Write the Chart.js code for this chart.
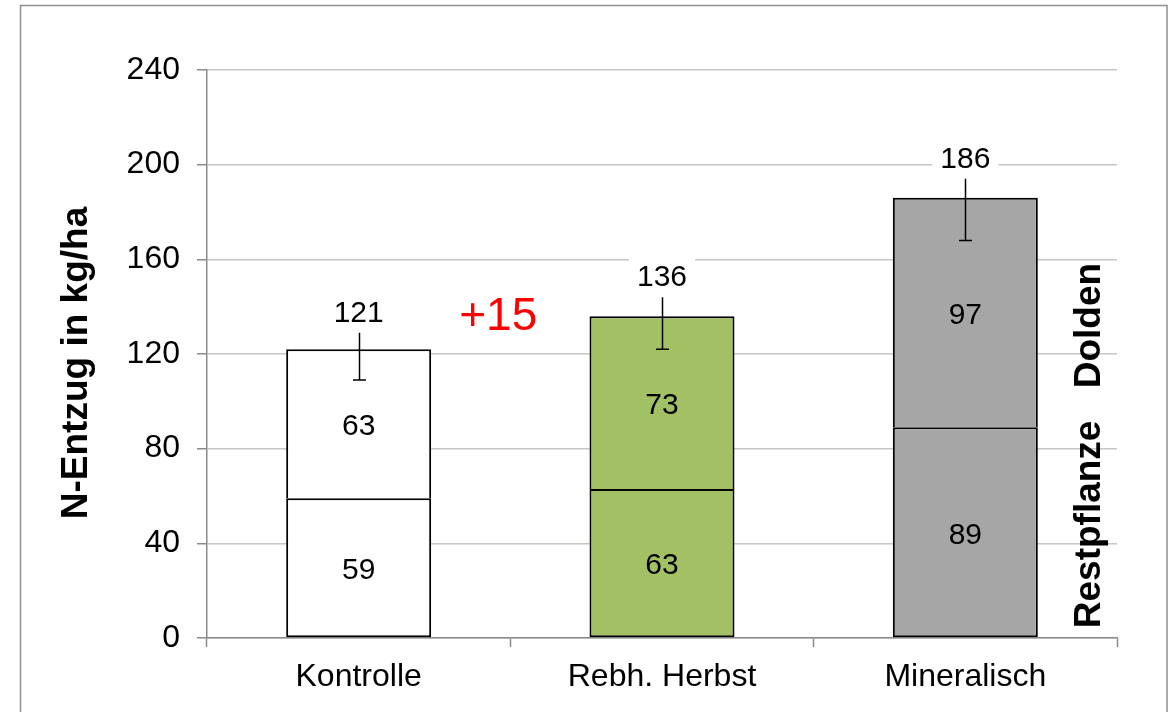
<!DOCTYPE html>
<html>
<head>
<meta charset="utf-8">
<script src="https://cdn.jsdelivr.net/npm/chart.js@4/dist/chart.umd.min.js"></script>
<style>
html,body{margin:0;padding:0;background:#fff;}
#c{display:block;}
</style>
</head>
<body>
<canvas id="c" width="1173" height="712"></canvas>
<script>
const categories = ['Kontrolle', 'Rebh. Herbst', 'Mineralisch'];
const restpflanze = [59, 63, 89];
const dolden = [63, 73, 97];
const totals = [121, 136, 186];
const errLow = [109, 122, 168];
const errHigh = [129, 144, 194];
const barColors = ['#FFFFFF', '#A2C164', '#A6A6A6'];
const yMin = 0, yMax = 240, yStep = 40;
const yTitle = 'N-Entzug in kg/ha';
const diffLabel = '+15';
const diffPos = {x: 0.46, y: 137};
const sideLabels = [{text: 'Dolden', y: 132}, {text: 'Restpflanze', y: 48}];

const FONT = '"Liberation Sans", Arial, sans-serif';

const extras = {
  id: 'extras',
  beforeDraw(chart) {
    const ctx = chart.ctx;
    ctx.save();
    ctx.fillStyle = '#fff';
    ctx.fillRect(0, 0, chart.width, chart.height);
    ctx.strokeStyle = '#8E8E8E';
    ctx.lineWidth = 1.5;
    ctx.strokeRect(20.5, 5.5, 1146.5, 760);
    ctx.restore();
  },
  afterDatasetsDraw(chart) {
    const ctx = chart.ctx;
    const xs = chart.scales.x, ys = chart.scales.y;
    const ca = chart.chartArea;
    ctx.save();
    // error bars
    ctx.strokeStyle = '#000';
    ctx.lineWidth = 1.5;
    categories.forEach((c, i) => {
      const x = Math.round(xs.getPixelForValue(i)) + 0.5;
      const yl = ys.getPixelForValue(errLow[i]);
      const yh = ys.getPixelForValue(errHigh[i]);
      ctx.beginPath();
      ctx.moveTo(x, yh); ctx.lineTo(x, yl);
      ctx.moveTo(x - 6.5, yl); ctx.lineTo(x + 6.5, yl);
      ctx.stroke();
    });
    ctx.font = '30px ' + FONT;
    ctx.textAlign = 'center';
    ctx.textBaseline = 'alphabetic';
    // totals with white box
    categories.forEach((c, i) => {
      const x = xs.getPixelForValue(i);
      const yh = ys.getPixelForValue(errHigh[i]);
      const base = yh - 11;
      const w = ctx.measureText(String(totals[i])).width;
      ctx.fillStyle = '#fff';
      ctx.fillRect(x - w / 2 - 8, base - 30, w + 16, 36);
      ctx.fillStyle = '#000';
      ctx.fillText(String(totals[i]), x, base);
    });
    // segment labels
    categories.forEach((c, i) => {
      const x = xs.getPixelForValue(i);
      const m1 = (ys.getPixelForValue(0) + ys.getPixelForValue(restpflanze[i])) / 2;
      const m2 = (ys.getPixelForValue(restpflanze[i]) + ys.getPixelForValue(restpflanze[i] + dolden[i])) / 2;
      ctx.fillStyle = '#000';
      ctx.fillText(String(restpflanze[i]), x, m1 + 11);
      ctx.fillText(String(dolden[i]), x, m2 + 11);
    });
    // diff label
    ctx.fillStyle = '#FF0000';
    ctx.font = '46px ' + FONT;
    ctx.fillText(diffLabel, xs.getPixelForValue(diffPos.x), ys.getPixelForValue(diffPos.y) + 16);
    // y title
    ctx.fillStyle = '#000';
    ctx.font = 'bold 37px ' + FONT;
    ctx.save();
    ctx.translate(87, (ca.top + ca.bottom) / 2 + 9);
    ctx.rotate(-Math.PI / 2);
    ctx.textAlign = 'center';
    ctx.fillText(yTitle, 0, 0);
    ctx.restore();
    // side labels
    sideLabels.forEach(s => {
      ctx.save();
      ctx.translate(ca.right - 17, ys.getPixelForValue(s.y));
      ctx.rotate(-Math.PI / 2);
      ctx.textAlign = 'center';
      ctx.fillText(s.text, 0, 0);
      ctx.restore();
    });
    ctx.restore();
  }
};

new Chart(document.getElementById('c'), {
  type: 'bar',
  data: {
    labels: categories,
    datasets: [
      {label: 'Restpflanze', data: restpflanze, backgroundColor: barColors, borderColor: '#000', borderWidth: 2, borderSkipped: false},
      {label: 'Dolden', data: dolden, backgroundColor: barColors, borderColor: '#000', borderWidth: 2, borderSkipped: 'bottom'}
    ]
  },
  options: {
    responsive: false,
    animation: false,
    devicePixelRatio: 1,
    layout: {padding: {left: 0, right: 56, top: 70, bottom: 0}},
    plugins: {legend: {display: false}, tooltip: {enabled: false}},
    datasets: {bar: {categoryPercentage: 1, barPercentage: 0.478}},
    scales: {
      x: {
        stacked: true,
        afterFit(s) { s.height = 74; },
        grid: {offset: true, drawOnChartArea: false, tickLength: 9, tickColor: '#8A8A8A', tickWidth: 1.5},
        border: {color: '#8A8A8A', width: 1.5},
        ticks: {font: {family: FONT, size: 32}, color: '#000', padding: 11}
      },
      y: {
        stacked: true,
        min: yMin, max: yMax,
        afterFit(s) { s.width = 207; },
        grid: {color: '#C6C6C6', lineWidth: 1.5, tickLength: 10, tickColor: '#8A8A8A', tickWidth: 1.5},
        border: {color: '#8A8A8A', width: 1.5},
        ticks: {stepSize: yStep, font: {family: FONT, size: 32}, color: '#000', padding: 17}
      }
    }
  },
  plugins: [extras]
});
</script>
</body>
</html>
